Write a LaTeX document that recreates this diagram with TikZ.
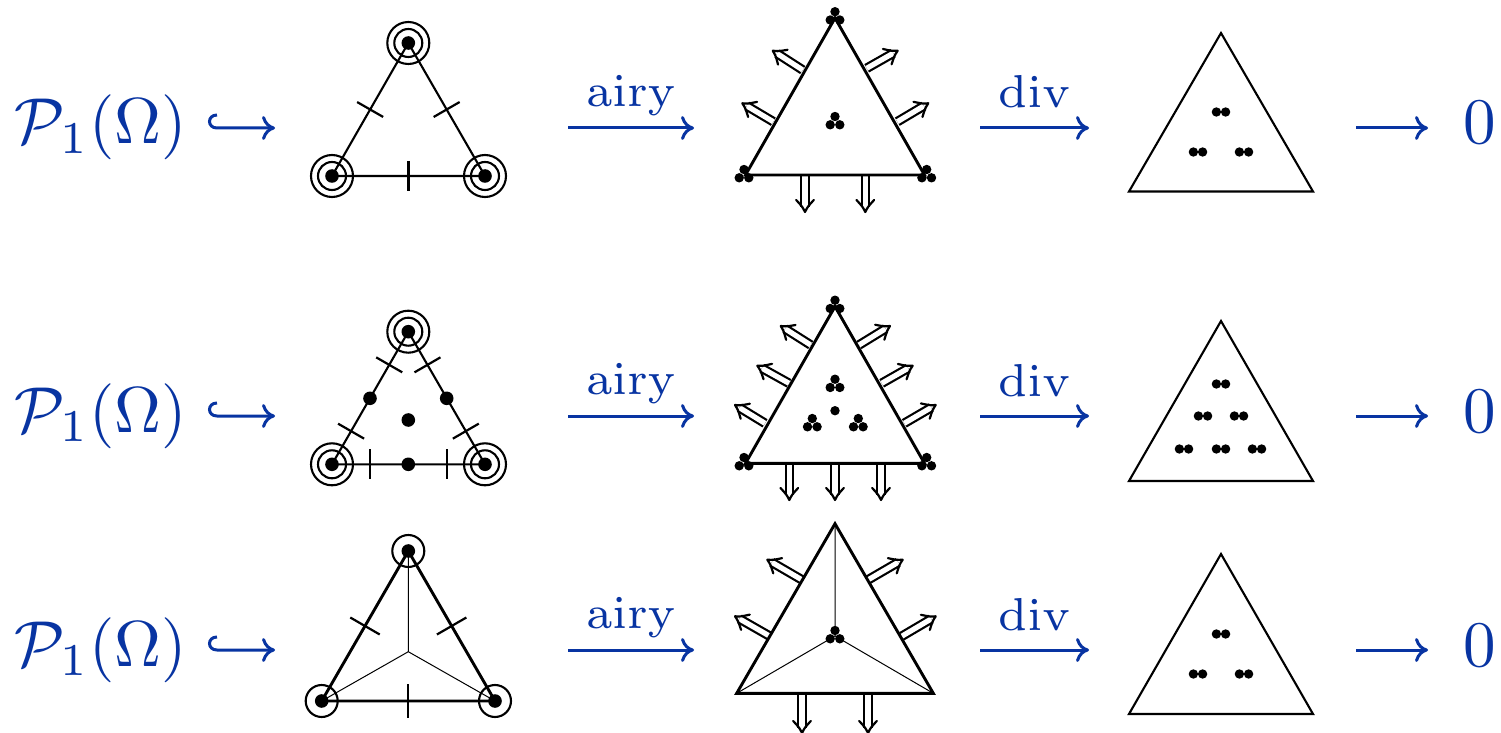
\documentclass[tikz,border=0pt]{standalone}
\usetikzlibrary{arrows.meta,calc}
\definecolor{mapblue}{RGB}{8,52,162}
\newcommand\scaledmath[1]{\scalebox{3.25}{$#1$}}
\newcommand\scaledlabel[1]{\scalebox{3.3}{$\scriptstyle\mathrm{#1}$}}
\newcommand\tridots[2]{\fill (#1,#2-5.5) circle[radius=2.35pt] (#1-4.8,#2+2.8) circle[radius=2.35pt] (#1+4.8,#2+2.8) circle[radius=2.35pt];}
\newcommand\pairdots[2]{\fill (#1-4.6,#2) circle[radius=2.35pt] (#1+4.6,#2) circle[radius=2.35pt];}
\newcommand\blackdot[2]{\fill (#1,#2) circle[radius=3.4pt];}
\newcommand\ringtwo[2]{\blackdot{#1}{#2}\draw[ringline] (#1,#2) circle[radius=7pt] (#1,#2) circle[radius=10.5pt];}
\newcommand\ringone[2]{\blackdot{#1}{#2}\draw[ringline] (#1,#2) circle[radius=8pt];}
% perpendicular tick through the point at fraction #4 of segment #2--#3
\newcommand\tickat[4][7.5pt]{\draw[tickline] ($(#2)!#4!(#3)!#1!90:(#3)$) -- ($(#2)!#4!(#3)!#1!-90:(#3)$);}
\newcommand\normalarrow[4]{\coordinate (nb) at (#1,#2); \coordinate (nt) at (#3,#4);
  \draw[normshaft] (nb) -- ($(nt)!2.6pt!(nb)$);
  \draw[normhead] ($(nt)!6pt!(nb)!4.4pt!90:(nb)$) .. controls ($(nt)!2.6pt!(nb)!1.3pt!90:(nb)$) .. (nt) .. controls ($(nt)!2.6pt!(nb)!1.3pt!-90:(nb)$) .. ($(nt)!6pt!(nb)!4.4pt!-90:(nb)$);}
\newcommand\maprow[2]{%
  \node[maptext,anchor=base west] (P#1) at (15,#2+16) {\scaledmath{\mathcal{P}_1(\Omega)}};
  \node[maptext,anchor=base] (Z#1) at (1480,#2+16) {\scaledmath{0}};
  \coordinate (hs#1) at (217,#2-13); \coordinate (hb#1) at (217,#2); \coordinate (he#1) at (275,#2);
  \draw[maparrow] (hs#1) .. controls (207,#2-13) and (207,#2) .. (hb#1) -- (he#1);
  \coordinate (as#1) at (568,#2); \coordinate (ae#1) at (694,#2);
  \draw[maparrow] (as#1) -- node[maplabel,above=6.5pt] (airy#1) {\scaledlabel{airy}} (ae#1);
  \coordinate (ds#1) at (980,#2); \coordinate (de#1) at (1089,#2);
  \draw[maparrow] (ds#1) -- node[maplabel,above=10pt] (div#1) {\scaledlabel{div}} (de#1);
  \coordinate (zs#1) at (1356,#2); \coordinate (ze#1) at (1428,#2);
  \draw[maparrow] (zs#1) -- (ze#1);
}
\tikzset{
  x=0.5pt,y=-0.5pt,
  maptext/.style={text=mapblue,inner sep=0pt,outer sep=0pt},
  maplabel/.style={text=mapblue,inner sep=0pt,outer sep=0pt},
  maparrow/.style={draw=mapblue,line width=1.5pt,-{Computer Modern Rightarrow[length=6.5pt,width=12pt]}},
  tri/.style={line width=1.05pt,line join=miter},
  thicktri/.style={line width=1.45pt,line join=miter},
  thin tri/.style={line width=.5pt},
  ringline/.style={line width=1.05pt},
  tickline/.style={line width=1.1pt},
  normshaft/.style={double,double distance=2.6pt,line width=1.1pt},
  normhead/.style={line width=1.1pt,line join=round,line cap=round},
}
\begin{document}
\begin{tikzpicture}
\useasboundingbox (0,0) rectangle (1501,733);
\maprow{1}{128}
\maprow{2}{416}
\maprow{3}{650}

% ---------- row 1, left
\coordinate (A) at (408.3,43); \coordinate (B) at (332,176); \coordinate (C) at (485,176);
\draw[tri] (A) -- (B) -- (C) -- cycle;
\ringtwo{408.3}{43}\ringtwo{332}{176}\ringtwo{485}{176}
\tickat{A}{B}{.5}\tickat{A}{C}{.5}\tickat{B}{C}{.5}

% ---------- row 1, middle
\normalarrow{802.7}{70}{772.7}{50.7}
\normalarrow{773.3}{121.7}{742.3}{103.3}
\normalarrow{866.7}{68.3}{897.7}{50.7}
\normalarrow{897.3}{121.7}{928.3}{103.3}
\normalarrow{805}{175}{805}{212}
\normalarrow{865.3}{175}{865.3}{212}
\coordinate (A) at (835,18); \coordinate (B) at (745.5,175); \coordinate (C) at (924.5,175);
\draw[thicktri] (A) -- (B) -- (C) -- cycle;
\tridots{835}{17.2}\tridots{744}{175}\tridots{926.7}{175}\tridots{835}{122}

% ---------- row 1, right
\coordinate (A) at (1221,33); \coordinate (B) at (1129,191.5); \coordinate (C) at (1313,191.5);
\draw[tri] (A) -- (B) -- (C) -- cycle;
\pairdots{1221}{112}\pairdots{1198}{152}\pairdots{1244}{152}

% ---------- row 2, left
\coordinate (A) at (408.3,331.7); \coordinate (B) at (332,464.3); \coordinate (C) at (485,464.3);
\draw[tri] (A) -- (B) -- (C) -- cycle;
\ringtwo{408.3}{331.7}\ringtwo{332}{464.3}\ringtwo{485}{464.3}
\tickat{A}{B}{.25}\tickat{A}{B}{.75}\tickat{A}{C}{.25}\tickat{A}{C}{.75}\tickat{B}{C}{.25}\tickat{B}{C}{.75}
\blackdot{370}{398.3}\blackdot{446.7}{398.3}\blackdot{408.3}{420}\blackdot{408.3}{464.3}

% ---------- row 2, middle
\normalarrow{810.7}{345}{780.7}{326}
\normalarrow{789}{383.3}{757.3}{365.7}
\normalarrow{765}{423.3}{735}{405}
\normalarrow{859}{345}{890}{326}
\normalarrow{881.7}{383.3}{912.7}{365.7}
\normalarrow{904.3}{423.3}{935.7}{405}
\normalarrow{789.3}{463}{789.3}{500}
\normalarrow{835}{463}{835}{500}
\normalarrow{881}{463}{881}{500}
\coordinate (A) at (835,306.5); \coordinate (B) at (745.5,463.3); \coordinate (C) at (924.5,463.3);
\draw[thicktri] (A) -- (B) -- (C) -- cycle;
\tridots{835}{305.7}\tridots{744}{463}\tridots{926.7}{463}
\tridots{835}{384.7}\tridots{812.3}{424}\tridots{858.3}{424}
\fill (835,410.7) circle[radius=2.35pt];

% ---------- row 2, right
\coordinate (A) at (1221,321); \coordinate (B) at (1129,481); \coordinate (C) at (1313,481);
\draw[tri] (A) -- (B) -- (C) -- cycle;
\pairdots{1221}{384}\pairdots{1203}{416}\pairdots{1239}{416}
\pairdots{1184}{449}\pairdots{1221}{449}\pairdots{1257}{449}

% ---------- row 3, left
\coordinate (A) at (408.3,551); \coordinate (B) at (321.7,701); \coordinate (C) at (495,701); \coordinate (O) at (408.3,651.7);
\draw[thin tri] (O) -- (A) (O) -- (B) (O) -- (C);
\draw[thicktri] (A) -- (B) -- (C) -- cycle;
\ringone{408.3}{551}\ringone{321.7}{701}\ringone{495}{701}
\tickat[8.5pt]{A}{B}{.5}\tickat[8.5pt]{A}{C}{.5}\tickat[8.5pt]{B}{C}{.5}

% ---------- row 3, middle
\normalarrow{801.7}{579.7}{767.3}{559.7}
\normalarrow{770}{636.3}{735}{616.3}
\normalarrow{868.3}{579.7}{902.7}{559.7}
\normalarrow{901.7}{636.3}{935.7}{616.3}
\normalarrow{802}{693}{802}{733}
\normalarrow{868}{693}{868}{733}
\coordinate (A) at (835,523.7); \coordinate (B) at (736.7,693.3); \coordinate (C) at (933.3,693.3); \coordinate (O) at (835,636);
\draw[thin tri] (O) -- (A) (O) -- (B) (O) -- (C);
\draw[thicktri] (A) -- (B) -- (C) -- cycle;
\tridots{835}{636}

% ---------- row 3, right
\coordinate (A) at (1221,554); \coordinate (B) at (1129,714); \coordinate (C) at (1313,714);
\draw[tri] (A) -- (B) -- (C) -- cycle;
\pairdots{1221}{634}\pairdots{1198}{674}\pairdots{1244}{674}
\end{tikzpicture}
\end{document}
